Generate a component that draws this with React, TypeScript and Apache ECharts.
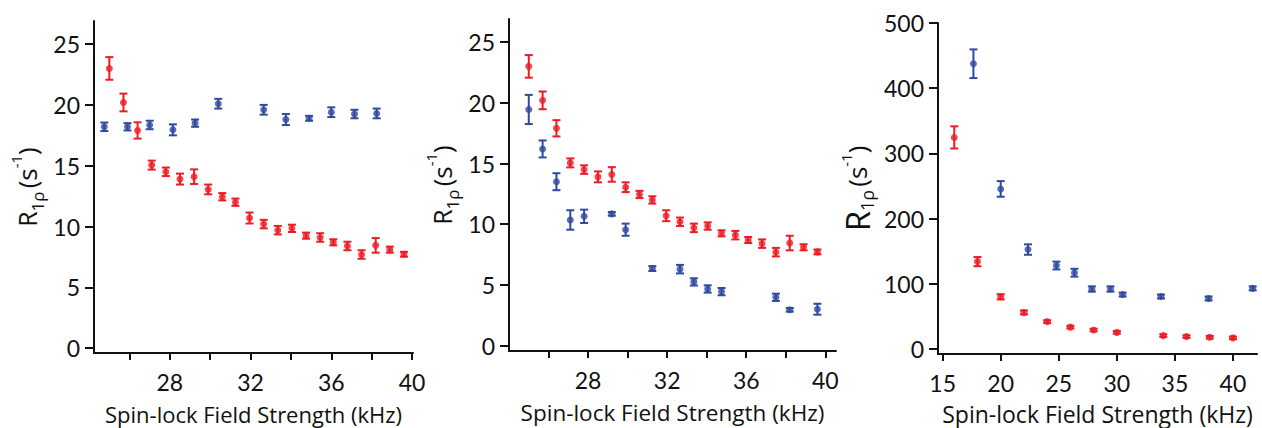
import React, { useEffect, useRef } from "react";
import * as echarts from "echarts";

// ---- Data ----
// Shared red dataset (panels 1 and 2)
const redX = [25.0, 25.7, 26.4, 27.1, 27.8, 28.5, 29.2, 29.9, 30.6, 31.25, 31.95, 32.65, 33.35, 34.05, 34.75, 35.45, 36.1, 36.8, 37.5, 38.2, 38.9, 39.6];
const redY = [23.0, 20.2, 17.9, 15.05, 14.5, 13.9, 14.1, 13.05, 12.45, 12.0, 10.7, 10.2, 9.7, 9.85, 9.25, 9.1, 8.7, 8.4, 7.7, 8.45, 8.1, 7.72];
const redErr = [0.93, 0.73, 0.67, 0.37, 0.35, 0.45, 0.6, 0.4, 0.3, 0.3, 0.45, 0.35, 0.35, 0.3, 0.25, 0.35, 0.25, 0.35, 0.35, 0.6, 0.25, 0.2];

// Panel 1 blue
const blue1X = [24.75, 25.9, 27.0, 28.15, 29.25, 30.4, 32.65, 33.75, 34.9, 36.0, 37.15, 38.25];
const blue1Y = [18.2, 18.2, 18.35, 17.95, 18.5, 20.1, 19.6, 18.8, 18.9, 19.4, 19.25, 19.3];
const blue1Err = [0.35, 0.3, 0.35, 0.45, 0.3, 0.4, 0.4, 0.45, 0.2, 0.4, 0.35, 0.4];

// Panel 2 blue
const blue2X = [25.0, 25.7, 26.4, 27.1, 27.8, 29.2, 29.9, 31.25, 32.65, 33.35, 34.05, 34.75, 37.5, 38.2, 39.6];
const blue2Y = [19.45, 16.2, 13.5, 10.35, 10.65, 10.85, 9.55, 6.35, 6.3, 5.25, 4.67, 4.45, 3.98, 2.95, 3.0];
const blue2Err = [1.2, 0.7, 0.7, 0.8, 0.55, 0.15, 0.5, 0.2, 0.35, 0.3, 0.3, 0.3, 0.3, 0.15, 0.45];

// Panel 3
const red3X = [16, 18, 20, 22, 24, 26, 28, 30, 34, 36, 38, 40];
const red3Y = [324.5, 134, 80, 56, 42, 33.5, 29, 25.5, 20.5, 19, 18, 17];
const red3Err = [17, 7, 4, 3, 2, 2, 2, 2, 2, 2, 2, 2];
const blue3X = [17.65, 20.0, 22.35, 24.8, 26.35, 27.85, 29.45, 30.5, 33.8, 37.9, 41.7];
const blue3Y = [437.5, 245.5, 152.5, 128, 117, 92, 92, 83.5, 80.5, 77.5, 93];
const blue3Err = [22, 12, 8, 6, 6, 4, 4, 3, 3, 3, 3];

// Tick labels
const yTicks12 = [0, 5, 10, 15, 20, 25];
const xTicks12 = [26, 28, 30, 32, 34, 36, 38, 40];
const xLabels12 = [28, 32, 36, 40];
const yTicks3 = [0, 100, 200, 300, 400, 500];
const xTicks3 = [15, 20, 25, 30, 35, 40];

const RED = "#ec1c24";
const BLUE = "#2f4a9e";
const FONT = "Lato, 'Open Sans', sans-serif";
const NFONT = "'Open Sans', Lato, sans-serif";
const INK = "#111";

const xName = "Spin-lock Field Strength (kHz)";

function errRender(color: string) {
  return (params: any, api: any) => {
    const x = api.value(0);
    const lo = api.value(1);
    const hi = api.value(2);
    const a = api.coord([x, lo]);
    const b = api.coord([x, hi]);
    const hw = 4;
    const st = { stroke: color, lineWidth: 2 };
    return {
      type: "group",
      children: [
        { type: "line", shape: { x1: a[0], y1: a[1], x2: b[0], y2: b[1] }, style: st },
        { type: "line", shape: { x1: a[0] - hw, y1: a[1], x2: a[0] + hw, y2: a[1] }, style: st },
        { type: "line", shape: { x1: b[0] - hw, y1: b[1], x2: b[0] + hw, y2: b[1] }, style: st },
      ],
    };
  };
}

function seriesPair(xs: number[], ys: number[], es: number[], color: string, idx: number) {
  return [
    {
      type: "custom",
      xAxisIndex: idx,
      yAxisIndex: idx,
      renderItem: errRender(color),
      encode: { x: 0, y: [1, 2] },
      data: xs.map((x, i) => [x, ys[i] - es[i], ys[i] + es[i]]),
      z: 2,
    },
    {
      type: "scatter",
      xAxisIndex: idx,
      yAxisIndex: idx,
      symbol: "circle",
      symbolSize: 7,
      itemStyle: { color },
      data: xs.map((x, i) => [x, ys[i]]),
      z: 3,
    },
  ];
}

function yName(rSize: number, pSize: number, subSize: number) {
  return {
    name: "{r|R}{sub|1ρ}{sp| }{p|(s}{sup|-1}{p|)}",
    nameLocation: "middle",
    nameRotate: 90,
    nameTextStyle: {
      fontFamily: NFONT,
      color: INK,
      rich: {
        r: { fontSize: rSize, fontFamily: NFONT, color: INK, lineHeight: 38, verticalAlign: "middle" },
        sub: { fontSize: subSize, fontFamily: NFONT, color: INK, lineHeight: subSize, verticalAlign: "bottom" },
        sp: { fontSize: 12, fontFamily: NFONT, lineHeight: 12 },
        p: { fontSize: pSize, fontFamily: NFONT, color: INK, lineHeight: 38, verticalAlign: "middle" },
        sup: { fontSize: 15, fontFamily: NFONT, color: INK, lineHeight: 15, verticalAlign: "top" },
      },
    },
  };
}

const axisLineStyle = { lineStyle: { color: INK, width: 2 } };

function makeX(idx: number, min: number, max: number, ticks: number[], labels: number[], nameSize: number, gap: number) {
  return {
    type: "value",
    gridIndex: idx,
    min,
    max,
    splitLine: { show: false },
    axisLine: { show: true, onZero: false, ...axisLineStyle },
    axisTick: { show: true, length: 7, customValues: ticks, lineStyle: { color: INK, width: 2 } },
    axisLabel: { customValues: labels, fontSize: 23, fontFamily: FONT, color: INK, margin: 17 },
    name: xName,
    nameLocation: "middle",
    nameGap: gap,
    nameTextStyle: { fontSize: nameSize, lineHeight: nameSize, fontFamily: NFONT, color: INK },
  };
}

function makeY(idx: number, min: number, max: number, ticks: number[], gap: number, rSize: number, pSize: number, subSize: number) {
  return {
    type: "value",
    gridIndex: idx,
    min,
    max,
    splitLine: { show: false },
    axisLine: { show: true, onZero: false, ...axisLineStyle },
    axisTick: { show: true, length: 9, customValues: ticks, lineStyle: { color: INK, width: 2 } },
    axisLabel: { customValues: ticks, fontSize: 23, fontFamily: FONT, color: INK, margin: 14 },
    nameGap: gap,
    ...yName(rSize, pSize, subSize),
  };
}

export default function App() {
  const ref = useRef<HTMLDivElement>(null);
  useEffect(() => {
    document.body.style.margin = "0";
    const chart = echarts.init(ref.current!, null, { renderer: "svg" });
    chart.setOption({
      animation: false,
      backgroundColor: "#fff",
      grid: [
        { left: 94, top: 21, width: 319, height: 332, outerBoundsMode: "none", containLabel: false },
        { left: 509, top: 19, width: 327, height: 332, outerBoundsMode: "none", containLabel: false },
        { left: 938, top: 23, width: 319, height: 331, outerBoundsMode: "none", containLabel: false },
      ],
      xAxis: [
        makeX(0, 24.24, 40.05, xTicks12, xLabels12, 22, 50),
        makeX(1, 24.0, 40.54, xTicks12, xLabels12, 22.5, 50),
        makeX(2, 14.6, 42.07, xTicks3, xTicks3, 23, 48),
      ],
      yAxis: [
        makeY(0, -0.4, 26.9, yTicks12, 48, 25, 26, 17),
        makeY(1, -0.44, 26.9, yTicks12, 48, 25, 26, 17),
        makeY(2, -7.7, 500, yTicks3, 62, 33, 26, 18),
      ],
      series: [
        ...seriesPair(redX, redY, redErr, RED, 0),
        ...seriesPair(blue1X, blue1Y, blue1Err, BLUE, 0),
        ...seriesPair(redX, redY, redErr, RED, 1),
        ...seriesPair(blue2X, blue2Y, blue2Err, BLUE, 1),
        ...seriesPair(red3X, red3Y, red3Err, RED, 2),
        ...seriesPair(blue3X, blue3Y, blue3Err, BLUE, 2),
      ],
    });
    return () => chart.dispose();
  }, []);
  return <div ref={ref} style={{ width: 1262, height: 428 }} />;
}
